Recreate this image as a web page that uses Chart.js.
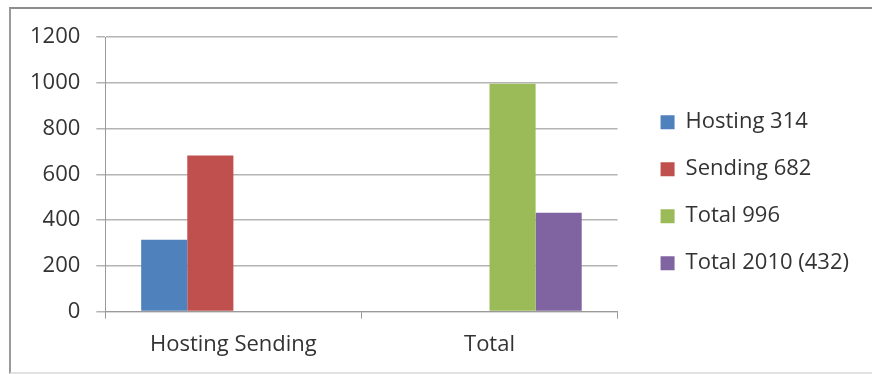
<!DOCTYPE html>
<html>
<head>
<meta charset="utf-8">
<script src="https://cdn.jsdelivr.net/npm/chart.js@4.4.0/dist/chart.umd.min.js"></script>
<style>
  html, body { margin: 0; padding: 0; background: #fff; overflow: hidden; }
  #frame {
    position: absolute; left: 9px; top: 7px; width: 900px; height: 363px;
    border-top: 2px solid #8c8c8c; border-left: 2px solid #9a9a9a; border-bottom: 2px solid #e2e2e2;
  }
  #wrap { position: absolute; left: 0; top: 0; width: 872px; height: 374px; }
</style>
</head>
<body>
<div id="frame"></div>
<div id="wrap"><canvas id="chart" width="872" height="374"></canvas></div>
<script>
// DATA
const categories = ["Hosting Sending", "Total"];
const hosting = [314, null];
const sending = [682, null];
const total = [null, 996];
const total2010 = [null, 432];
const seriesNames = ["Hosting 314", "Sending 682", "Total 996", "Total 2010 (432)"];
const colors = ["#4F81BD", "#C0504D", "#9BBB59", "#8064A2"];

const font = { family: "'Open Sans', sans-serif", size: 22 };
const textColor = "#333";

// let the legend be as wide as its text (chart.js caps side boxes at a quarter of the width)
const wideLegend = {
  id: "wideLegend",
  afterInit(chart) {
    const lg = chart.legend;
    const fit = lg.fit.bind(lg);
    lg.fit = function () {
      this.maxWidth = 1000;
      fit();
    };
  }
};

const ctx = document.getElementById("chart").getContext("2d");
const chart = new Chart(ctx, {
  type: "bar",
  data: {
    labels: categories,
    datasets: [hosting, sending, total, total2010].map((d, i) => ({
      label: seriesNames[i],
      data: d,
      backgroundColor: colors[i],
      borderWidth: 0,
      categoryPercentage: 0.72,
      barPercentage: 1.0
    }))
  },
  plugins: [wideLegend],
  options: {
    responsive: false,
    animation: false,
    layout: { padding: { left: 14, right: 13, top: 37, bottom: 3 } },
    plugins: {
      tooltip: { enabled: false },
      legend: {
        position: "right",
        align: "start",
        title: { display: true, text: " ", font: { size: 1 }, padding: { top: 0, bottom: 48 } },
        labels: {
          font: font,
          color: textColor,
          boxWidth: 14,
          boxHeight: 14,
          padding: 25
        }
      }
    },
    scales: {
      x: {
        grid: {
          display: true,
          drawOnChartArea: false,
          offset: true,
          tickLength: 7,
          color: "#9a9a9a"
        },
        border: { display: true, color: "#9a9a9a" },
        ticks: { font: font, color: textColor, padding: 13 }
      },
      y: {
        min: 0,
        max: 1200,
        ticks: { stepSize: 200, font: font, color: textColor, padding: 16, callback: v => String(v) },
        grid: { color: "#b4b4b4", tickLength: 9, lineWidth: 1.5 },
        border: { display: true, color: "#9a9a9a" }
      },
      gap: {
        position: "right",
        display: true,
        ticks: { display: false },
        grid: { display: false },
        border: { display: false },
        afterFit: s => { s.width = 18; }
      }
    }
  }
});
</script>
</body>
</html>
